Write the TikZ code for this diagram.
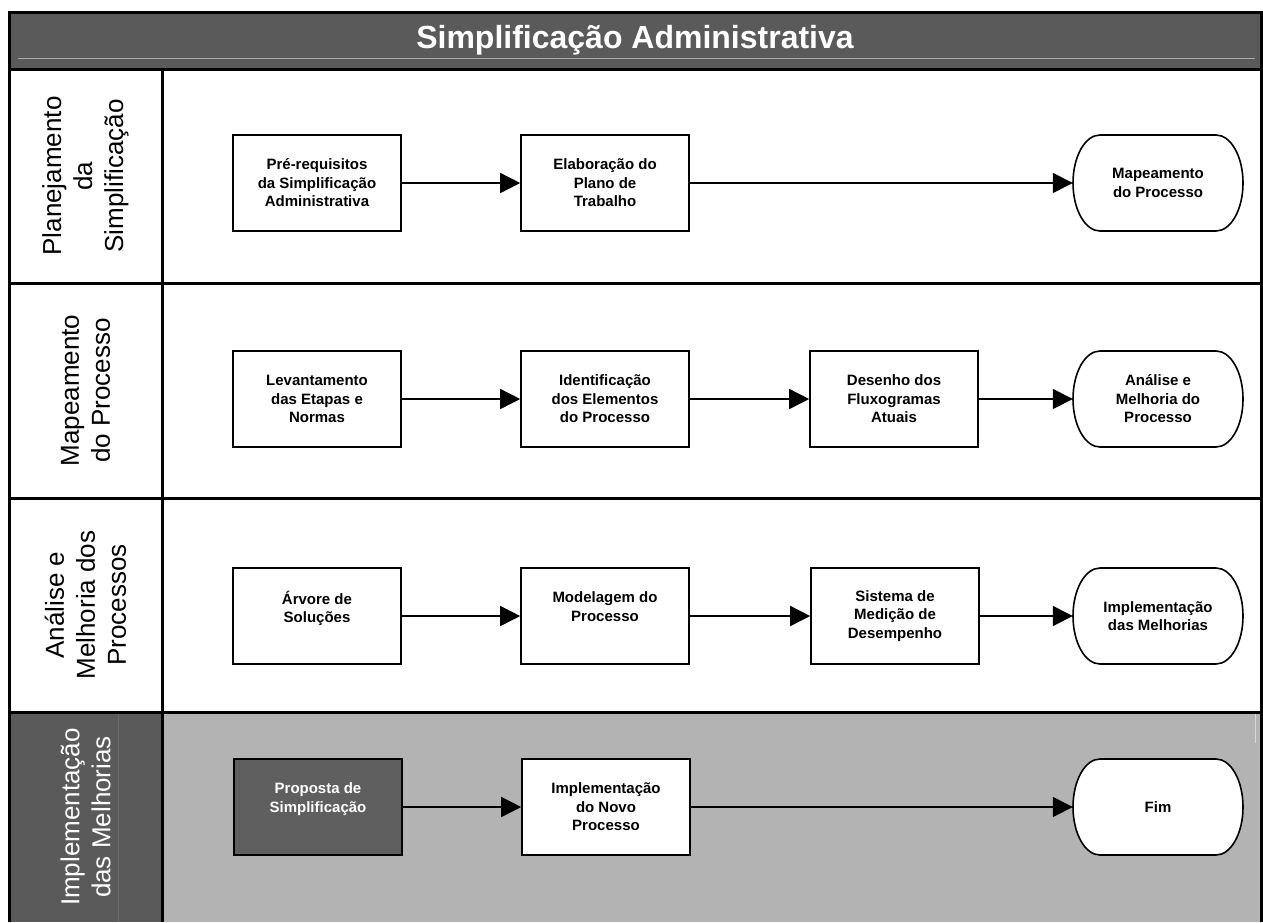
\documentclass[tikz,border=0pt]{standalone}
\usepackage{fontspec}
\setmainfont{Liberation Sans}
\usetikzlibrary{arrows.meta}
\definecolor{hdr}{HTML}{5A5A5A}
\definecolor{lanegray}{HTML}{B3B3B3}
\definecolor{boxdark}{HTML}{5F5F5F}
\definecolor{hline}{HTML}{A8A8A8}
\definecolor{seam}{HTML}{6B6B6B}
\definecolor{seamlight}{HTML}{D8D8D8}
\newcommand{\termshape}[4]{%
  \filldraw[fill=white,draw=black,line width=1.6pt]
    ({#2-58},{-#3+48}) -- ({#2+58},{-#3+48})
    arc[start angle=90,end angle=-90,x radius=27,y radius=48]
    -- ({#2-58},{-#3-48})
    arc[start angle=270,end angle=90,x radius=27,y radius=48] -- cycle;
  \node[termnode] (#1) at (#2,-#3) {#4};}
\begin{document}
\begin{tikzpicture}[x=1pt,y=1pt,
  boxfont/.style={font=\fontsize{15}{18.5}\selectfont\bfseries},
  stepbox/.style={boxfont,draw=black,line width=1.6pt,fill=white,minimum width=168pt,minimum height=96pt,align=center,inner sep=0pt},
  darkbox/.style={stepbox,fill=boxdark,text=white},
  termnode/.style={boxfont,minimum width=170pt,minimum height=96pt,align=center,inner sep=0pt},
  flow/.style={line width=1.5pt,-{Triangle[length=20pt,width=20pt]}},
  lanelabel/.style={rotate=90,align=center,font=\fontsize{26}{31}\selectfont},
  frameline/.style={line width=3pt,black}]
\useasboundingbox (0,0) rectangle (1263,-922);
% header
\fill[hdr] (9,-12) rectangle (1261,-69);
\draw[hline,line width=1pt] (18,-58) -- (1255,-58);
\node[font=\fontsize{32}{38}\selectfont\bfseries,text=white] (title) at (635,-40) {Simplificação Administrativa};
% lane 4 fills
\fill[hdr] (9,-712) rectangle (162,-922);
\fill[lanegray] (162,-712) rectangle (1261,-922);
\draw[seam,line width=1pt] (118,-714) -- (118,-922);
\draw[seamlight,line width=1pt] (1255,-714) -- (1255,-743);
% frame and lanes
\draw[frameline,line join=miter] (9,-922) -- (9,-12) -- (1261,-12) -- (1261,-922);
\draw[frameline] (9,-69) -- (1261,-69);
\draw[frameline] (9,-283) -- (1261,-283);
\draw[frameline] (9,-498) -- (1261,-498);
\draw[frameline] (9,-712) -- (1261,-712);
\draw[frameline] (162,-69) -- (162,-922);
% lane labels
\node[lanelabel] (lab1) at (85.5,-176) {Planejamento\\da\\Simplificação};
\node[lanelabel] (lab2) at (85.5,-390.5) {Mapeamento\\do Processo};
\node[lanelabel] (lab3) at (85.5,-605) {Análise e\\Melhoria dos\\Processos};
\node[lanelabel,text=white] (lab4) at (85.5,-817) {Implementação\\das Melhorias};
% lane 1
\node[stepbox] (a1) at (317,-183) {Pré-requisitos\\da Simplificação\\Administrativa};
\node[stepbox] (a2) at (605,-183) {Elaboração do\\Plano de\\Trabalho};
\termshape{a3}{1158}{183}{Mapeamento\\do Processo}
\draw[flow] (a1) -- (a2);
\draw[flow] (a2) -- (a3);
% lane 2
\node[stepbox] (b1) at (317,-399) {Levantamento\\das Etapas e\\Normas};
\node[stepbox] (b2) at (605,-399) {Identificação\\dos Elementos\\do Processo};
\node[stepbox] (b3) at (894,-399) {Desenho dos\\Fluxogramas\\Atuais};
\termshape{b4}{1158}{399}{Análise e\\Melhoria do\\Processo}
\draw[flow] (b1) -- (b2);
\draw[flow] (b2) -- (b3);
\draw[flow] (b3) -- (b4);
% lane 3
\node[stepbox] (c1) at (317,-616) {Árvore de\\Soluções\\\mbox{}};
\node[stepbox] (c2) at (605,-616) {Modelagem do\\Processo\\\mbox{}};
\node[stepbox] (c3) at (895,-616) {Sistema de\\Medição de\\Desempenho};
\termshape{c4}{1158}{616}{Implementação\\das Melhorias}
\draw[flow] (c1) -- (c2);
\draw[flow] (c2) -- (c3);
\draw[flow] (c3) -- (c4);
% lane 4
\node[darkbox] (d1) at (318,-807) {Proposta de\\Simplificação\\\mbox{}};
\node[stepbox] (d2) at (606,-807) {Implementação\\do Novo\\Processo};
\termshape{d3}{1158}{807}{Fim}
\draw[flow] (d1) -- (d2);
\draw[flow] (d2) -- (d3);
\end{tikzpicture}
\end{document}
